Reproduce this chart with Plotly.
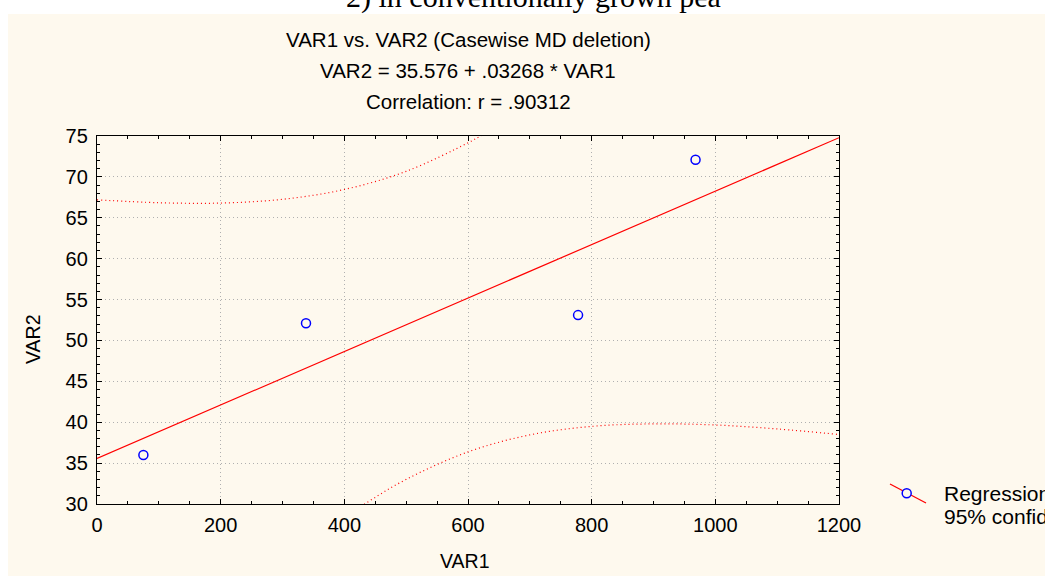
import plotly.graph_objects as go

# ---- data ----
var1 = [75, 338, 778, 968]
var2 = [36.0, 52.1, 53.1, 72.1]

intercept = 35.576
slope = 0.03268
line_x = [0, 1200]

upper_x = [0, 100, 200, 300, 400, 500, 600, 620, 650]
upper_y = [67.2, 66.84, 66.8, 67.26, 68.46, 70.68, 74.16, 75.0, 76.4]
lower_x = [400, 433, 500, 600, 700, 800, 900, 1000, 1100, 1200]
lower_y = [28.32, 30.0, 33.01, 36.37, 38.45, 39.49, 39.8, 39.66, 39.18, 38.5]

x_ticks = [0, 200, 400, 600, 800, 1000, 1200]
y_ticks = [30, 35, 40, 45, 50, 55, 60, 65, 70, 75]

title_main = "2) in conventionally grown pea"
sub_lines = ["VAR1 vs. VAR2 (Casewise MD deletion)",
             "VAR2 = 35.576 + .03268 * VAR1",
             "Correlation: r = .90312"]
legend_labels = ["Regression", "95% confid."]

# ---- layout geometry (pixels) ----
W, H = 1045, 576
L, R, T, B = 97, 839, 136, 504
pw, ph = R - L, B - T


def px(x):
    return (x - L) / pw


def py(y):
    return (B - y) / ph


RED = "#FF0000"
BLUE = "#0000FF"
BEIGE = "#FEF9EE"
FONT = "Liberation Sans, Arial, sans-serif"

fig = go.Figure()

fig.add_trace(go.Scatter(x=upper_x, y=upper_y, mode="lines",
                         line=dict(color=RED, width=1.2, dash="1px,3px", shape="spline"),
                         showlegend=False, hoverinfo="skip"))
fig.add_trace(go.Scatter(x=lower_x, y=lower_y, mode="lines",
                         line=dict(color=RED, width=1.2, dash="1px,3px", shape="spline"),
                         showlegend=False, hoverinfo="skip"))
fig.add_trace(go.Scatter(x=line_x, y=[intercept + slope * v for v in line_x], mode="lines",
                         line=dict(color=RED, width=1.2), showlegend=False))
fig.add_trace(go.Scatter(x=var1, y=var2, mode="markers",
                         marker=dict(symbol="circle-open", size=9, color=BLUE,
                                     line=dict(color=BLUE, width=1.5)),
                         showlegend=False))

axis_common = dict(showline=True, linecolor="black", linewidth=1.3, mirror="allticks",
                   ticks="inside", ticklen=5, tickwidth=1.3, tickcolor="black",
                   showgrid=True, gridcolor="#b0b0b0", griddash="1px,3px", gridwidth=1,
                   zeroline=False, tickfont=dict(family=FONT, size=20, color="black"))

fig.update_xaxes(range=[0, 1200], tickvals=x_ticks, ticklabelstandoff=3,
                 minor=dict(dtick=50, tick0=0, ticks="inside", ticklen=3, tickcolor="black",
                            showgrid=False),
                 **axis_common)
fig.update_yaxes(range=[30, 75], tickvals=y_ticks, ticklabelstandoff=4,
                 minor=dict(dtick=1, tick0=30, ticks="inside", ticklen=3, tickcolor="black",
                            showgrid=False),
                 **axis_common)

shapes = [
    dict(type="rect", xref="paper", yref="paper", x0=px(8), x1=px(1060), y0=py(590), y1=py(14),
         fillcolor=BEIGE, line=dict(width=0), layer="below"),
    dict(type="line", xref="paper", yref="paper", x0=px(890), y0=py(484), x1=px(926), y1=py(503),
         line=dict(color=RED, width=1.3)),
    dict(type="circle", xref="paper", yref="paper", x0=px(902.2), x1=px(911.2),
         y0=py(497.8), y1=py(488.8), fillcolor=BEIGE, line=dict(color=BLUE, width=1.5)),
]

annotations = [
    dict(text=title_main, x=px(533), y=py(16), xref="paper", yref="paper",
         xanchor="center", yanchor="bottom", showarrow=False,
         font=dict(family="Liberation Serif, Times New Roman, serif", size=30, color="black")),
]
for txt, yy in zip(sub_lines, [39, 70, 102]):
    annotations.append(dict(text=txt, x=px(468), y=py(yy), xref="paper", yref="paper",
                            xanchor="center", yanchor="middle", showarrow=False,
                            font=dict(family=FONT, size=20.5, color="black")))
annotations.append(dict(text="VAR2", x=px(33), y=py(339), xref="paper", yref="paper",
                        textangle=-90, xanchor="center", yanchor="middle", showarrow=False,
                        font=dict(family=FONT, size=19.5, color="black")))
annotations.append(dict(text="VAR1", x=px(465), y=py(561), xref="paper", yref="paper",
                        xanchor="center", yanchor="middle", showarrow=False,
                        font=dict(family=FONT, size=19.5, color="black")))
for txt, yy in zip(legend_labels, [493, 516]):
    annotations.append(dict(text=txt, x=px(942), y=py(yy), xref="paper", yref="paper",
                            xanchor="left", yanchor="middle", showarrow=False,
                            font=dict(family=FONT, size=21, color="black")))

fig.update_layout(width=W, height=H,
                  margin=dict(l=L, r=W - R, t=T, b=H - B, pad=0),
                  paper_bgcolor="white", plot_bgcolor="white",
                  shapes=shapes, annotations=annotations, showlegend=False)

fig.write_html("out.html")
